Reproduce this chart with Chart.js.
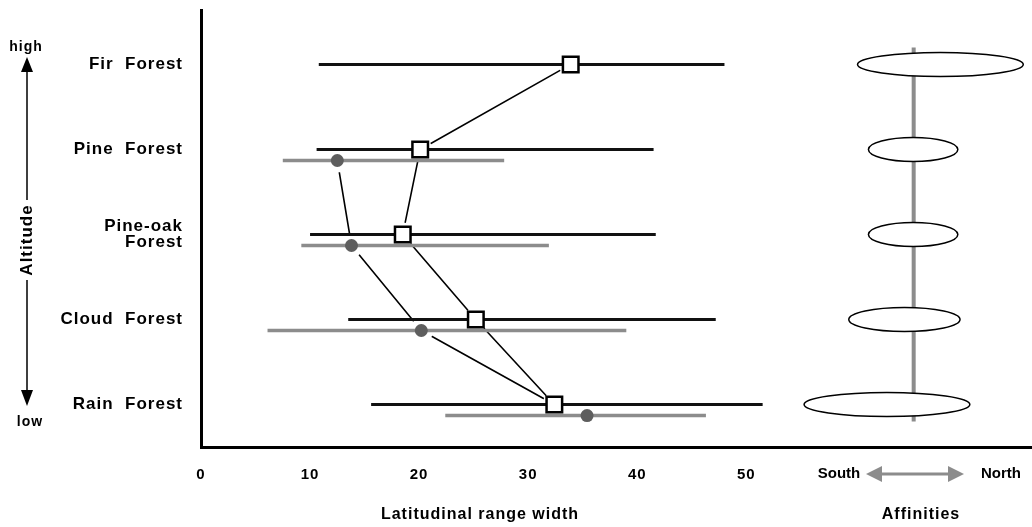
<!DOCTYPE html>
<html>
<head>
<meta charset="utf-8">
<script src="https://cdn.jsdelivr.net/npm/chart.js@4.4.1/dist/chart.umd.min.js"></script>
<style>
  html, body { margin: 0; padding: 0; background: #fff; overflow: hidden; }
  #wrap { width: 1032px; height: 527px; position: relative; }
  canvas { display: block; }
</style>
</head>
<body>
<div id="wrap"><canvas id="chart-range"></canvas></div>
<script>
// rows, top (high altitude) to bottom (low altitude)
const forests = ['Fir  Forest', 'Pine  Forest', ['Pine-oak', 'Forest'], 'Cloud  Forest', 'Rain  Forest'];
const xTicks = [0, 10, 20, 30, 40, 50];

// black ranges with square marker
const blackLow = [10.8, 10.6, 10.0, 13.5, 15.6];
const blackHigh = [48.0, 41.5, 41.7, 47.2, 51.5];
const blackMid = [33.9, 20.1, 18.5, 25.2, 32.4];

// grey ranges with round marker (none for fir forest)
const greyLow = [null, 7.5, 9.2, 6.1, 22.4];
const greyHigh = [null, 27.8, 31.9, 39.0, 46.3];
const greyMid = [null, 12.5, 13.8, 20.2, 35.4];

// links between markers: [kind, row, kind, row]
const links = [
    ['sq', 0, 'sq', 1],
    ['sq', 1, 'sq', 2],
    ['ci', 1, 'ci', 2],
    ['ci', 2, 'ci', 3],
    ['sq', 2, 'sq', 3],
    ['ci', 3, 'sq', 4],
    ['sq', 3, 'sq', 4]
];

// affinities (south <-> north)
const affCenter = [67.8, 65.3, 65.3, 64.5, 62.9];
const affSpread = [7.6, 4.1, 4.1, 5.1, 7.6];
const affAxis = 65.35;
const affExtent = [-0.2, 4.2];

const GREY_DY = 0.13;
const GREY = '#8c8c8c';
const FONT = "'Liberation Sans', Arial, sans-serif";

Chart.defaults.font.family = FONT;
Chart.defaults.font.weight = 'bold';
Chart.defaults.color = '#000';

function pt(kind, i) {
    return kind === 'sq' ? { x: blackMid[i], y: i } : { x: greyMid[i], y: i + GREY_DY };
}

// build segment data with null breaks
const blackSegs = [];
const greySegs = [];
forests.forEach((f, i) => {
    blackSegs.push({ x: blackLow[i], y: i }, { x: blackHigh[i], y: i }, { x: null, y: null });
    if (greyLow[i] !== null) {
        greySegs.push({ x: greyLow[i], y: i + GREY_DY }, { x: greyHigh[i], y: i + GREY_DY }, { x: null, y: null });
    }
});
const linkSegs = [];
links.forEach(l => {
    linkSegs.push(pt(l[0], l[1]), pt(l[2], l[3]), { x: null, y: null });
});
const squares = blackMid.map((v, i) => ({ x: v, y: i }));
const circles = greyMid.map((v, i) => (v === null ? { x: null, y: null } : { x: v, y: i + GREY_DY }));
const halo = squares.concat(circles.filter(p => p.x !== null));

// wider letter spacing like the original lettering
const spacing = {
    id: 'spacing',
    beforeDraw(chart) { chart.ctx.letterSpacing = '1px'; }
};

// ellipses for affinities + extra labels
const extras = {
    id: 'extras',
    afterDatasetsDraw(chart) {
        const { ctx, scales: { x, y } } = chart;
        ctx.save();
        ctx.lineWidth = 1.5;
        ctx.strokeStyle = '#000';
        ctx.fillStyle = '#fff';
        affCenter.forEach((c, i) => {
            const cx = x.getPixelForValue(c);
            const rx = cx - x.getPixelForValue(c - affSpread[i]);
            const cy = y.getPixelForValue(i);
            ctx.beginPath();
            ctx.ellipse(cx, cy, rx, 12, 0, 0, Math.PI * 2);
            ctx.fill();
            ctx.stroke();
        });
        ctx.restore();
    },
    afterDraw(chart) {
        const ctx = chart.ctx;
        ctx.save();
        ctx.letterSpacing = '1px';
        ctx.fillStyle = '#000';
        ctx.strokeStyle = '#000';
        ctx.textAlign = 'center';
        ctx.textBaseline = 'middle';

        // altitude arrow
        ctx.font = "bold 14px " + FONT;
        ctx.fillText('high', 26, 47);
        ctx.fillText('low', 30, 422);
        ctx.lineWidth = 1.5;
        ctx.beginPath();
        ctx.moveTo(27, 70); ctx.lineTo(27, 200);
        ctx.moveTo(27, 280); ctx.lineTo(27, 392);
        ctx.stroke();
        ctx.beginPath();
        ctx.moveTo(27, 57); ctx.lineTo(21, 72); ctx.lineTo(33, 72); ctx.closePath();
        ctx.moveTo(27, 406); ctx.lineTo(21, 390); ctx.lineTo(33, 390); ctx.closePath();
        ctx.fill();
        ctx.save();
        ctx.translate(27, 240);
        ctx.rotate(-Math.PI / 2);
        ctx.font = "bold 17px " + FONT;
        ctx.fillText('Altitude', 0, 0);
        ctx.restore();

        // south / north arrow
        ctx.letterSpacing = '0px';
        ctx.font = "bold 15px " + FONT;
        ctx.fillText('South', 839, 474);
        ctx.fillText('North', 1001, 474);
        ctx.fillStyle = GREY;
        ctx.strokeStyle = GREY;
        ctx.lineWidth = 3;
        ctx.beginPath();
        ctx.moveTo(878, 474); ctx.lineTo(951, 474);
        ctx.stroke();
        ctx.beginPath();
        ctx.moveTo(866, 474); ctx.lineTo(882, 466); ctx.lineTo(882, 482); ctx.closePath();
        ctx.moveTo(964, 474); ctx.lineTo(948, 466); ctx.lineTo(948, 482); ctx.closePath();
        ctx.fill();

        // axis titles
        ctx.letterSpacing = '1px';
        ctx.fillStyle = '#000';
        ctx.font = "bold 16px " + FONT;
        ctx.fillText('Latitudinal range width', 480, 515);
        ctx.fillText('Affinities', 921, 515);
        ctx.restore();
    }
};

const config = {
    type: 'scatter',
    data: {
        datasets: [
            {
                label: 'affinity axis',
                data: [{ x: affAxis, y: affExtent[0] }, { x: affAxis, y: affExtent[1] }],
                showLine: true,
                borderColor: GREY,
                borderWidth: 4,
                pointRadius: 0,
                order: 9
            },
            {
                label: 'links',
                data: linkSegs,
                showLine: true,
                borderColor: '#000',
                borderWidth: 1.6,
                pointRadius: 0,
                spanGaps: false,
                order: 8
            },
            {
                label: 'halo',
                data: halo,
                pointRadius: 12,
                pointBackgroundColor: '#fff',
                pointBorderWidth: 0,
                order: 7
            },
            {
                label: 'grey range',
                data: greySegs,
                showLine: true,
                borderColor: GREY,
                borderWidth: 3.5,
                pointRadius: 0,
                spanGaps: false,
                order: 6
            },
            {
                label: 'black range',
                data: blackSegs,
                showLine: true,
                borderColor: '#111',
                borderWidth: 3,
                pointRadius: 0,
                spanGaps: false,
                order: 5
            },
            {
                label: 'grey mid',
                data: circles,
                pointStyle: 'circle',
                pointRadius: 6.5,
                pointBackgroundColor: '#5e5e5e',
                pointBorderWidth: 0,
                order: 2
            },
            {
                label: 'black mid',
                data: squares,
                pointStyle: 'rect',
                pointRadius: 11,
                pointBackgroundColor: '#fff',
                pointBorderColor: '#000',
                pointBorderWidth: 2.5,
                order: 1
            }
        ]
    },
    options: {
        responsive: true,
        maintainAspectRatio: false,
        animation: false,
        events: [],
        layout: { autoPadding: false, padding: { top: 10, left: 51, right: 0, bottom: 0 } },
        plugins: {
            legend: { display: false },
            tooltip: { enabled: false }
        },
        scales: {
            x: {
                type: 'linear',
                min: 0,
                max: 76.2,
                grid: { display: false, drawTicks: false },
                border: { display: true, color: '#000', width: 3 },
                afterBuildTicks: s => { s.ticks = xTicks.map(v => ({ value: v })); },
                afterFit: s => { s.height = 80; s.paddingLeft = 0; s.paddingRight = 0; },
                ticks: {
                    padding: 19,
                    font: { size: 15, weight: 'bold' },
                    color: '#000'
                }
            },
            y: {
                type: 'linear',
                reverse: true,
                min: -0.64,
                max: 4.5,
                grid: { display: false, drawTicks: false },
                border: { display: true, color: '#000', width: 3 },
                afterBuildTicks: s => { s.ticks = forests.map((f, i) => ({ value: i })); },
                afterFit: s => { s.width = 150; s.paddingTop = 0; s.paddingBottom = 0; },
                ticks: {
                    padding: 18,
                    font: { size: 17, weight: 'bold', lineHeight: 0.95 },
                    color: '#000',
                    callback: v => forests[v]
                }
            }
        }
    },
    plugins: [spacing, extras]
};

const myChart = new Chart(document.getElementById('chart-range'), config);
</script>
</body>
</html>
